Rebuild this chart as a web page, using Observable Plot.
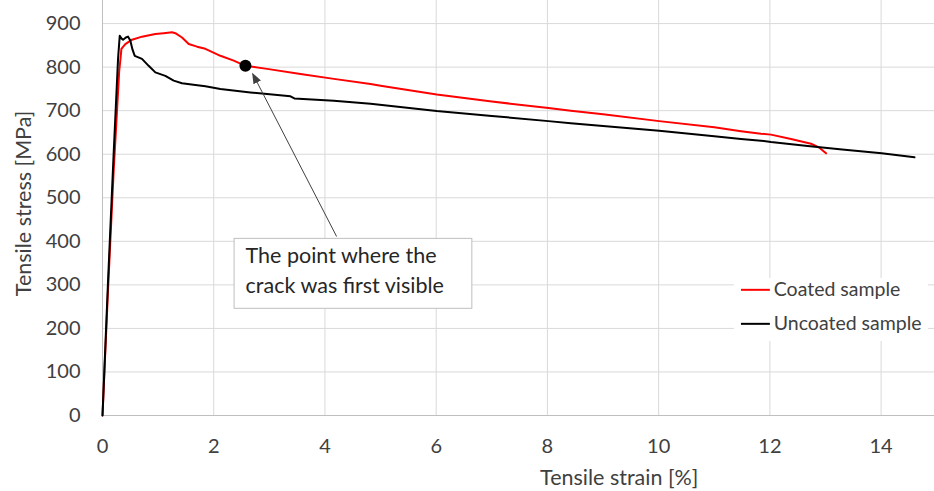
<!DOCTYPE html>
<html><head><meta charset="utf-8">
<script src="https://cdn.jsdelivr.net/npm/d3@7"></script>
<script src="https://cdn.jsdelivr.net/npm/@observablehq/plot@0.6"></script>
<style>html,body{margin:0;padding:0;background:#fff}</style>
</head><body><div id="chart"></div>
<script>
// ---- data ----
const seriesNames = ["Coated sample", "Uncoated sample"];
const coatedStrain = [0, 0.1, 0.2, 0.3, 0.32, 0.34, 0.41, 0.53, 0.71, 0.95, 1.1, 1.25, 1.31, 1.43, 1.55, 1.7, 1.85, 2.12, 2.36, 2.57, 2.96, 3.56, 4.16, 4.82, 5.0, 6.01, 7.0, 8.02, 8.42, 9.0, 10.01, 11.0, 11.48, 11.84, 12.02, 12.38, 12.74, 12.89, 13.01];
const coatedStress = [0, 290, 560, 790, 815, 842, 853, 863, 870, 876, 878, 880, 878, 868, 853, 847, 842, 826, 815, 803, 796, 784, 773, 761, 757, 737, 721, 706, 700, 692, 676, 662, 653, 647, 645, 635, 624, 615, 602];
const uncoatedStrain = [0, 0.1, 0.2, 0.28, 0.31, 0.34, 0.37, 0.42, 0.46, 0.5, 0.54, 0.58, 0.71, 0.83, 0.95, 1.13, 1.28, 1.43, 1.67, 1.85, 2.12, 2.66, 3.38, 3.45, 4.16, 4.82, 6.01, 7.0, 8.02, 8.42, 9.0, 10.01, 11.0, 11.48, 11.84, 12.02, 12.68, 13.3, 14.01, 14.6];
const uncoatedStress = [0, 310, 600, 820, 872, 866, 863, 868, 870, 861, 840, 826, 819, 803, 788, 780, 769, 763, 759, 756, 750, 742, 733, 728, 723, 716, 699, 688, 676, 671, 665, 654, 641, 635, 631, 628, 619, 611, 602, 593];
const crackStrain = [2.57];
const crackStress = [803];
const noteLines = ["The point where the", "crack was first visible"];
const xTicks = [0, 2, 4, 6, 8, 10, 12, 14];
const yTicks = [0, 100, 200, 300, 400, 500, 600, 700, 800, 900];
const xTitle = "Tensile strain [%]";
const yTitle = "Tensile stress [MPa]";

// ---- layout (data coordinates for annotations) ----
const layout = {
  xDomain: [0, 14.96], yDomain: [0, 953],
  arrow: {x1: 4.21, y1: 411, x2: 2.70, y2: 785},
  box: {x1: 2.375, x2: 6.65, y1: 245, y2: 405.6},
  legendBox: {x1: 11.36, x2: 14.85, y1: 170, y2: 314.5},
  legendLine: {x1: 11.48, x2: 12.0}, legendText: 12.07, legendY: [288.6, 210.5],
  xTitleX: 9.29, yTitleY: 487
};

const coated = coatedStrain.map((x, i) => ({strain: x, stress: coatedStress[i], series: seriesNames[0]}));
const uncoated = uncoatedStrain.map((x, i) => ({strain: x, stress: uncoatedStress[i], series: seriesNames[1]}));
const crack = crackStrain.map((x, i) => ({strain: x, stress: crackStress[i]}));
const legendRows = seriesNames.map((name, i) => ({name, y: layout.legendY[i], color: i === 0 ? "#ff0000" : "#000000"}));

const font = "Lato, 'Open Sans', sans-serif";
const ns = "http://www.w3.org/2000/svg";
const arrowHead = (color, context) => {
  const doc = (context && context.document) || document;
  const m = doc.createElementNS(ns, "marker");
  m.setAttribute("viewBox", "-5 -5 10 10");
  m.setAttribute("markerWidth", 11);
  m.setAttribute("markerHeight", 11);
  m.setAttribute("markerUnits", "userSpaceOnUse");
  m.setAttribute("orient", "auto");
  m.setAttribute("refX", 4);
  const p = doc.createElementNS(ns, "path");
  p.setAttribute("d", "M-5,-3.8L5,0L-5,3.8Z");
  p.setAttribute("fill", color);
  p.setAttribute("stroke", "none");
  m.appendChild(p);
  return m;
};

const chart = Plot.plot({
  width: 934, height: 491,
  marginLeft: 102, marginRight: 0, marginTop: 0, marginBottom: 76,
  style: {fontFamily: font, fontSize: "20px", color: "#404040", background: "#fff"},
  x: {domain: layout.xDomain},
  y: {domain: layout.yDomain},
  marks: [
    Plot.gridX(xTicks.filter(d => d > 0), {stroke: "#d9d9d9", strokeOpacity: 1}),
    Plot.gridY(yTicks.filter(d => d > 0), {stroke: "#d9d9d9", strokeOpacity: 1}),
    Plot.ruleY([0], {stroke: "#bfbfbf"}),
    Plot.ruleX([0], {stroke: "#bfbfbf"}),
    Plot.axisX(xTicks, {tickSize: 0, tickPadding: 23, label: null, fontSize: 20, fill: "#404040"}),
    Plot.axisY(yTicks, {tickSize: 0, tickPadding: 22, label: null, fontSize: 20, fill: "#404040"}),
    Plot.text([xTitle], {x: layout.xTitleX, frameAnchor: "bottom", textAnchor: "middle", lineAnchor: "middle", dy: 63, fontSize: 21.5, fill: "#404040"}),
    Plot.text([yTitle], {y: layout.yTitleY, frameAnchor: "left", textAnchor: "middle", lineAnchor: "middle", dx: -78, rotate: -90, fontSize: 21.5, fill: "#404040"}),
    Plot.line(coated, {x: "strain", y: "stress", stroke: "#ff0000", strokeWidth: 2}),
    Plot.line(uncoated, {x: "strain", y: "stress", stroke: "#000000", strokeWidth: 2}),
    Plot.dot(crack, {x: "strain", y: "stress", r: 6, fill: "#000"}),
    Plot.link([layout.arrow], {x1: "x1", y1: "y1", x2: "x2", y2: "y2", stroke: "#404040", strokeWidth: 1, markerEnd: arrowHead}),
    Plot.rect([layout.box], {x1: "x1", x2: "x2", y1: "y1", y2: "y2", fill: "#fff", stroke: "#bfbfbf", strokeWidth: 1}),
    Plot.text([noteLines.join("\n")], {x: layout.box.x1, y: layout.box.y2, textAnchor: "start", lineAnchor: "top", dx: 11, dy: 3, lineHeight: 1.4, fontSize: 21.5, fill: "#262626"}),
    Plot.rect([layout.legendBox], {x1: "x1", x2: "x2", y1: "y1", y2: "y2", fill: "#fff"}),
    Plot.link(legendRows, {x1: layout.legendLine.x1, x2: layout.legendLine.x2, y1: "y", y2: "y", stroke: "color", strokeWidth: 2}),
    Plot.text(legendRows, {x: layout.legendText, y: "y", text: "name", textAnchor: "start", fontSize: 19.5, fill: "#404040"})
  ]
});
document.getElementById("chart").appendChild(chart);
</script>
</body></html>
